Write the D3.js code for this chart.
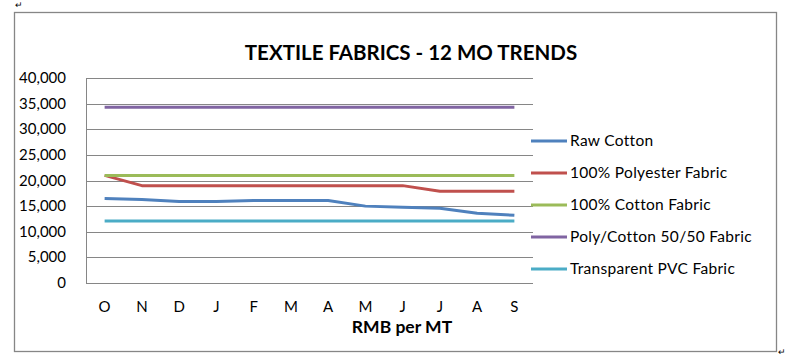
<!DOCTYPE html>
<html>
<head>
<meta charset="utf-8">
<script src="https://cdn.jsdelivr.net/npm/d3@7"></script>
<style>
  body { margin: 0; background: #fff; }
  text { font-family: Lato, "Open Sans", sans-serif; fill: #000; }
</style>
</head>
<body>
<svg id="chart" width="797" height="364"></svg>
<script>
// Months on the x axis, Oct through Sep.
var months = ['O', 'N', 'D', 'J', 'F', 'M', 'A', 'M', 'J', 'J', 'A', 'S'];

// Series values, RMB per MT.
var seriesNames = ['Raw Cotton', '100% Polyester Fabric', '100% Cotton Fabric',
  'Poly/Cotton 50/50 Fabric', 'Transparent PVC Fabric'];
var rawCotton = [16500, 16300, 15900, 15900, 16100, 16100, 16100, 15000, 14800, 14600, 13600, 13200];
var polyester = [21000, 19000, 19000, 19000, 19000, 19000, 19000, 19000, 19000, 17900, 17900, 17900];
var cottonFabric = [21000, 21000, 21000, 21000, 21000, 21000, 21000, 21000, 21000, 21000, 21000, 21000];
var polyCotton = [34300, 34300, 34300, 34300, 34300, 34300, 34300, 34300, 34300, 34300, 34300, 34300];
var pvcFabric = [12100, 12100, 12100, 12100, 12100, 12100, 12100, 12100, 12100, 12100, 12100, 12100];
var seriesColors = ['#4F81BD', '#C0504D', '#9BBB59', '#8064A2', '#4BACC6'];
var yTicks = [0, 5000, 10000, 15000, 20000, 25000, 30000, 35000, 40000];

var series = [rawCotton, polyester, cottonFabric, polyCotton, pvcFabric];

var svg = d3.select('#chart');
var grey = '#868686';

// Outer chart frame.
svg.append('rect')
  .attr('x', 14.5).attr('y', 12.5)
  .attr('width', 762).attr('height', 339)
  .attr('fill', 'none').attr('stroke', grey).attr('stroke-width', 1.3);

// Little paragraph marks from the document.
svg.append('text').attr('x', 15).attr('y', 8).attr('font-size', 9).attr('fill', '#999').text('\u21B5');
svg.append('text').attr('x', 778).attr('y', 355).attr('font-size', 9).attr('fill', '#999').text('\u21B5');

var x = d3.scaleBand()
  .domain(d3.range(months.length))
  .range([86, 533]);

var y = d3.scaleLinear()
  .domain([0, 40000])
  .range([283, 78]);

// Gridlines.
svg.append('g')
  .selectAll('line')
  .data(yTicks)
  .enter().append('line')
    .attr('x1', 86).attr('x2', 533)
    .attr('y1', function(d) { return Math.round(y(d)) + 0.5; })
    .attr('y2', function(d) { return Math.round(y(d)) + 0.5; })
    .attr('stroke', grey).attr('stroke-width', 1);

// Vertical axis line.
svg.append('line')
  .attr('x1', 86.5).attr('x2', 86.5)
  .attr('y1', 78).attr('y2', 284)
  .attr('stroke', grey);

// Y tick labels.
var fmt = d3.format(',');
svg.append('g')
  .selectAll('text')
  .data(yTicks)
  .enter().append('text')
    .attr('x', 66)
    .attr('y', function(d) { return y(d) + 5; })
    .attr('text-anchor', 'end')
    .attr('font-size', 15)
    .text(function(d) { return fmt(d); });

// X tick labels.
svg.append('g')
  .selectAll('text')
  .data(months)
  .enter().append('text')
    .attr('x', function(d, i) { return x(i) + x.bandwidth() / 2; })
    .attr('y', 312)
    .attr('text-anchor', 'middle')
    .attr('font-size', 15)
    .text(function(d) { return d; });

// Axis title.
svg.append('text')
  .attr('x', 402).attr('y', 333)
  .attr('text-anchor', 'middle')
  .attr('font-size', 17.5)
  .attr('font-weight', 'bold')
  .text('RMB per MT');

// Chart title.
svg.append('text')
  .attr('x', 411).attr('y', 60)
  .attr('text-anchor', 'middle')
  .attr('font-size', 20.5)
  .attr('font-weight', 'bold')
  .text('TEXTILE FABRICS - 12 MO TRENDS');

// The lines.
var line = d3.line()
  .x(function(d, i) { return x(i) + x.bandwidth() / 2; })
  .y(function(d) { return y(d); });

svg.append('g')
  .selectAll('path')
  .data(series)
  .enter().append('path')
    .attr('d', line)
    .attr('fill', 'none')
    .attr('stroke', function(d, i) { return seriesColors[i]; })
    .attr('stroke-width', 3)
    .attr('stroke-linejoin', 'round');

// Legend.
var legend = svg.append('g')
  .selectAll('g')
  .data(seriesNames)
  .enter().append('g')
    .attr('transform', function(d, i) { return 'translate(0,' + (141 + i * 32) + ')'; });

legend.append('line')
  .attr('x1', 531).attr('x2', 567)
  .attr('stroke', function(d, i) { return seriesColors[i]; })
  .attr('stroke-width', 3);

legend.append('text')
  .attr('x', 570).attr('y', 5)
  .attr('font-size', 15.5)
  .attr('letter-spacing', 0.3)
  .text(function(d) { return d; });
</script>
</body>
</html>
